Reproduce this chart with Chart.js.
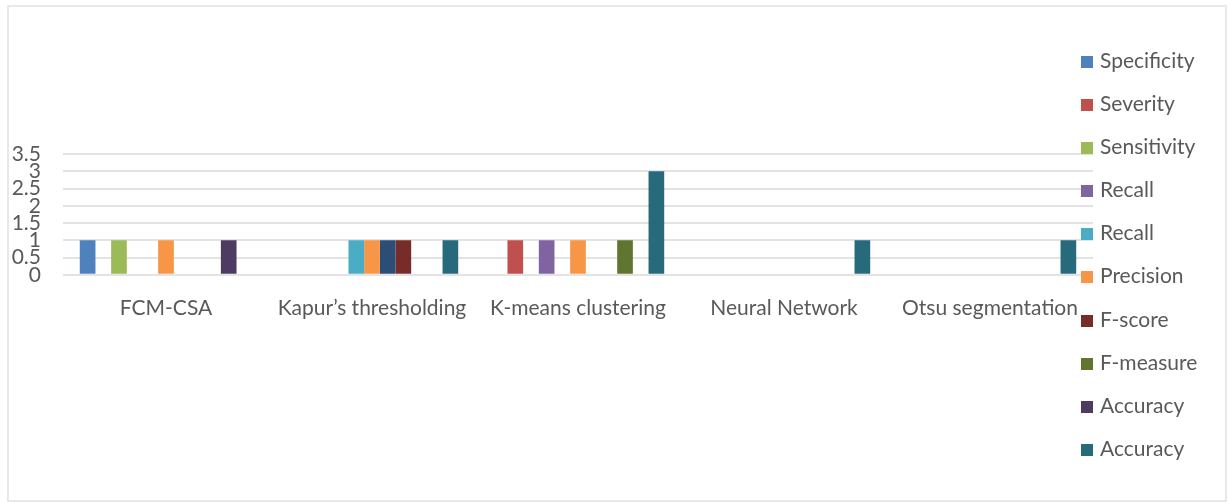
<!DOCTYPE html>
<html>
<head>
<meta charset="utf-8">
<script src="https://cdn.jsdelivr.net/npm/chart.js@4.4.1/dist/chart.umd.min.js"></script>
<style>
    body { margin: 0; overflow: hidden; background: #fff; font-family: Lato, "Open Sans", sans-serif; }
    #wrap { position: absolute; left: 0; top: 0; width: 1229px; height: 504px; }
    #frame { position: absolute; left: 7px; top: 5px; width: 1220px; height: 497px; box-sizing: border-box;
             border: 2px solid #e8e8e8; pointer-events: none; }
    #legend { position: absolute; left: 1081px; top: 48px; display: flex; flex-direction: column; gap: 20.1px; }
    .item { height: 23px; line-height: 23px; font-size: 21px; color: #595959; white-space: nowrap; }
    .box { display: inline-block; width: 12px; height: 12px; margin-right: 7px; vertical-align: 0px; }
</style>
</head>
<body>
<div id="wrap">
    <canvas id="grafico" width="1229" height="504"></canvas>
    <div id="frame"></div>
    <div id="legend"></div>
</div>
<script>
const categorias = ["FCM-CSA", "Kapur\u2019s thresholding", "K-means clustering", "Neural Network", "Otsu segmentation"];

// one array per series, in the order of the original workbook
const specificity = [1, null, null, null, null];
const severity    = [null, null, 1, null, null];
const sensitivity = [1, null, null, null, null];
const recall1     = [null, null, 1, null, null];
const recall2     = [null, 1, null, null, null];
const precision   = [1, 1, 1, null, null];
const semNome     = [null, 1, null, null, null]; // series without a legend entry
const fScore      = [null, 1, null, null, null];
const fMeasure    = [null, null, 1, null, null];
const accuracy1   = [1, null, null, null, null];
const accuracy2   = [null, 1, 3, 1, 1];

const nomes = ["Specificity", "Severity", "Sensitivity", "Recall", "Recall", "Precision", "", "F-score", "F-measure", "Accuracy", "Accuracy"];
const valores = [specificity, severity, sensitivity, recall1, recall2, precision, semNome, fScore, fMeasure, accuracy1, accuracy2];
const cores = ["#4F81BD", "#C0504D", "#9BBB59", "#8064A2", "#4BACC6", "#F79646", "#2C4D75", "#772C2A", "#5F7530", "#4D3B62", "#276A7C"];

const fonte = { family: "Lato, 'Open Sans', sans-serif", size: 21 };
const cinza = "#595959";

const ctx = document.getElementById("grafico").getContext("2d");
const grafico = new Chart(ctx, {
    type: "bar",
    data: {
        labels: categorias,
        datasets: nomes.map((nome, i) => ({
            label: nome,
            data: valores[i],
            backgroundColor: cores[i],
            borderWidth: 0,
            categoryPercentage: 0.837,
            barPercentage: 1
        }))
    },
    options: {
        responsive: false,
        animation: false,
        layout: { padding: { top: 154, right: 136, bottom: 170, left: 8 } },
        plugins: {
            legend: { display: false },
            tooltip: { enabled: false }
        },
        scales: {
            x: {
                grid: { display: false },
                border: { display: false },
                ticks: { color: cinza, font: fonte, padding: 13, maxRotation: 0, autoSkip: false }
            },
            y: {
                min: 0,
                max: 3.5,
                afterFit: (escala) => { escala.width = 55; },
                grid: { color: "#e3e3e3", lineWidth: 2, drawTicks: false },
                border: { display: false },
                ticks: {
                    stepSize: 0.5,
                    autoSkip: false,
                    padding: 22,
                    color: cinza,
                    font: fonte,
                    callback: (v) => String(v)
                }
            }
        }
    }
});

// legend on the right, overlapping the plot like the original
const legenda = document.getElementById("legend");
nomes.forEach((nome, i) => {
    if (!nome) return;
    const item = document.createElement("div");
    item.className = "item";
    item.innerHTML = `<span class="box" style="background:${cores[i]}"></span>${nome}`;
    legenda.appendChild(item);
});
</script>
</body>
</html>
